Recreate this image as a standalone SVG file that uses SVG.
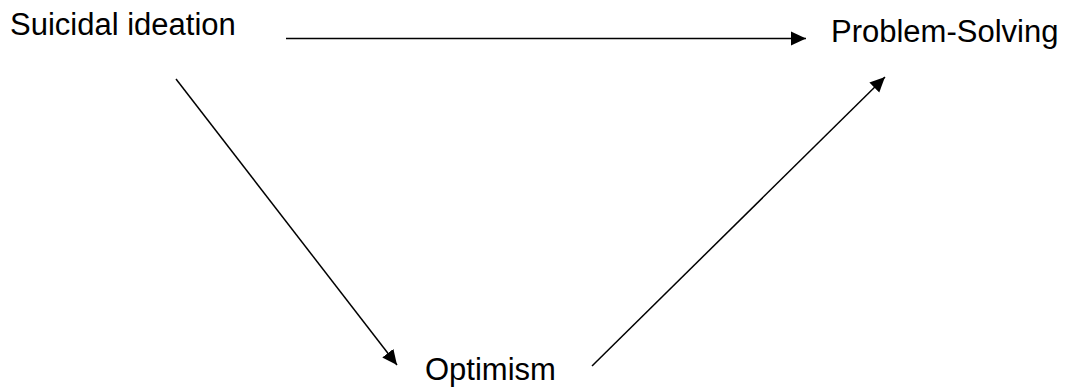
<svg xmlns="http://www.w3.org/2000/svg" width="1066" height="387" viewBox="0 0 1066 387">
<style>
.lbl{font-family:"Liberation Sans",Arial,sans-serif;font-size:31px;fill:#000}
.c{stroke:#000;stroke-width:1.5;fill:none;marker-end:url(#ah)}
</style>
<defs>
<marker id="ah" markerUnits="userSpaceOnUse" markerWidth="16" markerHeight="16" viewBox="0 0 16 16" refX="15" refY="8" orient="auto">
<path d="M0,1 L15,8 L0,15 Z" fill="#000"/>
</marker>
</defs>
<rect width="1066" height="387" fill="#fff"/>
<g id="connectors">
<line class="c" x1="286" y1="38.5" x2="806" y2="38.5"/>
<line class="c" x1="176" y1="79" x2="397" y2="365"/>
<line class="c" x1="592" y1="366" x2="885" y2="77"/>
</g>
<g id="node-suicidal"><text class="lbl" x="10" y="35">Suicidal ideation</text></g>
<g id="node-problem"><text class="lbl" x="831" y="42">Problem-Solving</text></g>
<g id="node-optimism"><text class="lbl" x="425" y="380">Optimism</text></g>
</svg>
